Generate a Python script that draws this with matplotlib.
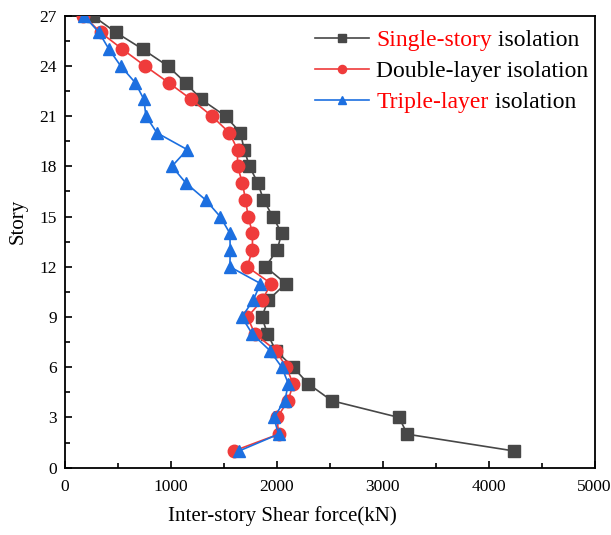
import matplotlib
matplotlib.use("Agg")
import matplotlib.pyplot as plt
from matplotlib.ticker import MultipleLocator

plt.rcParams['font.family'] = ['Liberation Serif', 'DejaVu Serif']

stories = list(range(1, 28))
single = [4240, 3233, 3154, 2519, 2299, 2154, 1990, 1912, 1858, 1918, 2085, 1893, 2003,
          2046, 1962, 1874, 1821, 1742, 1692, 1657, 1516, 1286, 1138, 969, 733, 481, 261]
double = [1594, 2016, 2003, 2107, 2154, 2091, 1991, 1792, 1723, 1861, 1946, 1720, 1770,
          1770, 1730, 1704, 1676, 1629, 1629, 1553, 1387, 1192, 978, 755, 541, 336, 173]
triple = [1644, 2016, 1972, 2075, 2110, 2047, 1934, 1767, 1670, 1777, 1846, 1557, 1560,
          1557, 1465, 1327, 1142, 1009, 1154, 868, 764, 745, 663, 525, 415, 321, 179]

label_parts = [("Single-story", " isolation", "#ff0000"),
               ("Double-layer isolation", "", "#000000"),
               ("Triple-layer", " isolation", "#ff0000")]

fig = plt.figure(figsize=(6.11, 5.35), dpi=100)
ax = fig.add_axes([0.1064, 0.1258, 0.8666, 0.8449])

c_s, c_d, c_t = "#474747", "#ef3b3b", "#1c6fe0"
ax.plot(single, stories, color=c_s, marker='s', ms=8.5, lw=1.2, zorder=3,
        label=label_parts[0][0] + label_parts[0][1])
ax.plot(double, stories, color=c_d, marker='o', ms=9, lw=1.2, zorder=4,
        label=label_parts[1][0] + label_parts[1][1])
ax.plot(triple, stories, color=c_t, marker='^', ms=9, lw=1.2, zorder=5,
        label=label_parts[2][0] + label_parts[2][1])

ax.set_xlim(0, 5000)
ax.set_ylim(0, 27)
ax.xaxis.set_major_locator(MultipleLocator(1000))
ax.xaxis.set_minor_locator(MultipleLocator(500))
ax.yaxis.set_major_locator(MultipleLocator(3))
ax.yaxis.set_minor_locator(MultipleLocator(1.5))
ax.tick_params(which='both', direction='in', top=False, right=False, width=1.2)
ax.tick_params(which='major', length=5, labelsize=12.5)
ax.tick_params(which='minor', length=3.5)
ax.tick_params(axis='x', pad=8)
ax.tick_params(axis='y', pad=6)
for sp in ax.spines.values():
    sp.set_linewidth(1.3)

ax.set_xlabel("Inter-story Shear force(kN)", fontsize=15)
ax.set_ylabel("Story", fontsize=15)
ax.xaxis.set_label_coords(0.41, -0.085)
ax.yaxis.set_label_coords(-0.07, 0.546)

fs = 17
leg = ax.legend(loc='upper right', bbox_to_anchor=(1.0063, 0.99), frameon=False,
                fontsize=fs, handlelength=2.3, handletextpad=0.3, markerscale=0.65,
                labelspacing=0.4, borderaxespad=0.0)
fig.canvas.draw()
inv = fig.transFigure.inverted()
for t, (p1, p2, col) in zip(leg.get_texts(), label_parts):
    bb = t.get_window_extent()
    x0, y0 = inv.transform((bb.x0, bb.y0))
    t.set_alpha(0)
    t1 = fig.text(x0, y0, p1, color=col, fontsize=fs, ha='left', va='bottom')
    if p2:
        ax.annotate(p2, xy=(1, 0), xycoords=t1, ha='left', va='bottom',
                    fontsize=fs, color='black', annotation_clip=False)

fig.savefig("out.png", dpi=100)
